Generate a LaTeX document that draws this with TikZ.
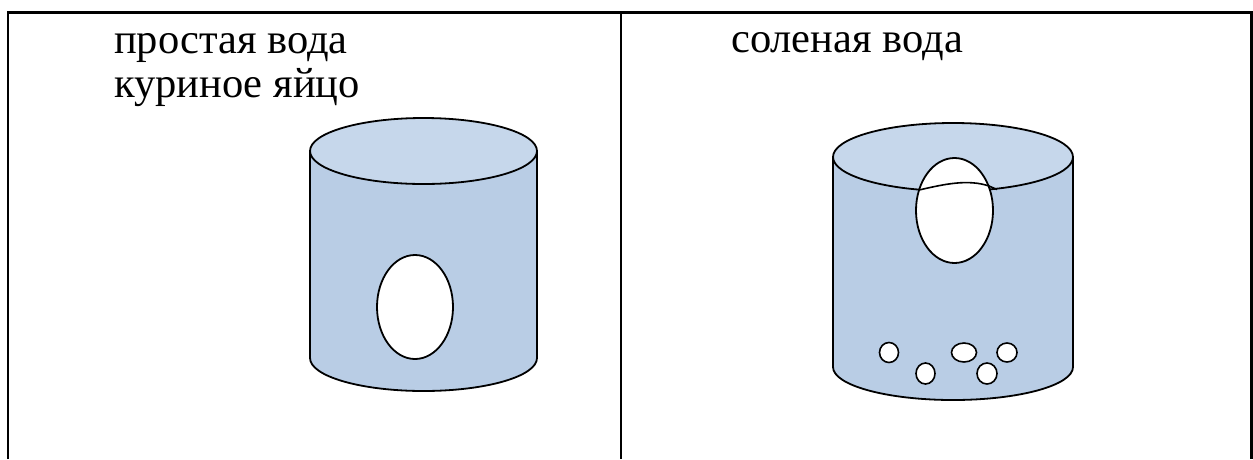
\documentclass[tikz,border=0pt]{standalone}
\usepackage{fontspec}
\setmainfont{Liberation Serif}
\usetikzlibrary{shapes.geometric}
\definecolor{waterside}{RGB}{185,205,229}
\definecolor{watertop}{RGB}{198,215,235}
\tikzset{
  grid line/.style={line width=2.5pt, black},
  vessel/.style={line width=1.8pt, black, line join=round},
  egg/.style={ellipse, draw=black, line width=1.8pt, fill=white, inner sep=0pt},
  caption/.style={anchor=base west, inner sep=0pt, font=\fontsize{42.5}{50}\selectfont},
}
\begin{document}
\begin{tikzpicture}[x=1pt, y=-1pt]
  \useasboundingbox (0,0) rectangle (1253,459);

  % table frame (open at the bottom)
  \coordinate (tl) at (8,12.5);
  \coordinate (tr) at (1251.5,12.5);
  \coordinate (tm) at (621,12.5);
  \coordinate (bl) at (8,459);
  \coordinate (br) at (1251.5,459);
  \coordinate (bm) at (621,459);
  \draw[grid line] (bl) -- (tl) -- (tr) -- (br);
  \draw[grid line] (tm) -- (bm);

  % captions
  \node[caption] (plain) at (114,53) {простая вода};
  \node[caption] (egglabel) at (114,97) {куриное яйцо};
  \node[caption] (salty) at (731,52.5) {соленая вода};

  % left vessel: plain water, egg on the bottom
  \fill[waterside] (310,151) -- (310,358) arc[start angle=180, end angle=0, x radius=113.5, y radius=33] -- (537,151) -- cycle;
  \draw[vessel] (310,151) -- (310,358) arc[start angle=180, end angle=0, x radius=113.5, y radius=33] -- (537,151);
  \draw[vessel, fill=watertop] (423.5,151) ellipse[x radius=113.5, y radius=33];
  \node[egg, minimum width=76pt, minimum height=104pt] (egg1) at (415,307) {};

  % right vessel: salt water, egg floats at the surface
  \fill[waterside] (833,157) -- (833,367) arc[start angle=180, end angle=0, x radius=120, y radius=33] -- (1073,157) -- cycle;
  \draw[vessel] (833,157) -- (833,367) arc[start angle=180, end angle=0, x radius=120, y radius=33] -- (1073,157);
  \draw[vessel, fill=watertop] (953,157) ellipse[x radius=120, y radius=34];
  \node[egg, minimum width=77pt, minimum height=105pt] (egg2) at (954.5,210.5) {};
  \coordinate (wl) at (919,190);
  \coordinate (wr) at (997,189.5);
  \draw[line width=1.6pt] (wl) .. controls (945,184) and (968,179) .. (989,186) -- (wr);

  % salt grains on the bottom
  \node[egg, line width=1.6pt, minimum width=19pt, minimum height=20pt] (g1) at (889,352.5) {};
  \node[egg, line width=1.6pt, minimum width=19pt, minimum height=21pt] (g2) at (925.5,373.5) {};
  \node[egg, line width=1.6pt, minimum width=25pt, minimum height=19pt] (g3) at (964,352.5) {};
  \node[egg, line width=1.6pt, minimum width=20pt, minimum height=19pt] (g4) at (1007,352.5) {};
  \node[egg, line width=1.6pt, minimum width=20pt, minimum height=21pt] (g5) at (987,373.5) {};
\end{tikzpicture}
\end{document}
